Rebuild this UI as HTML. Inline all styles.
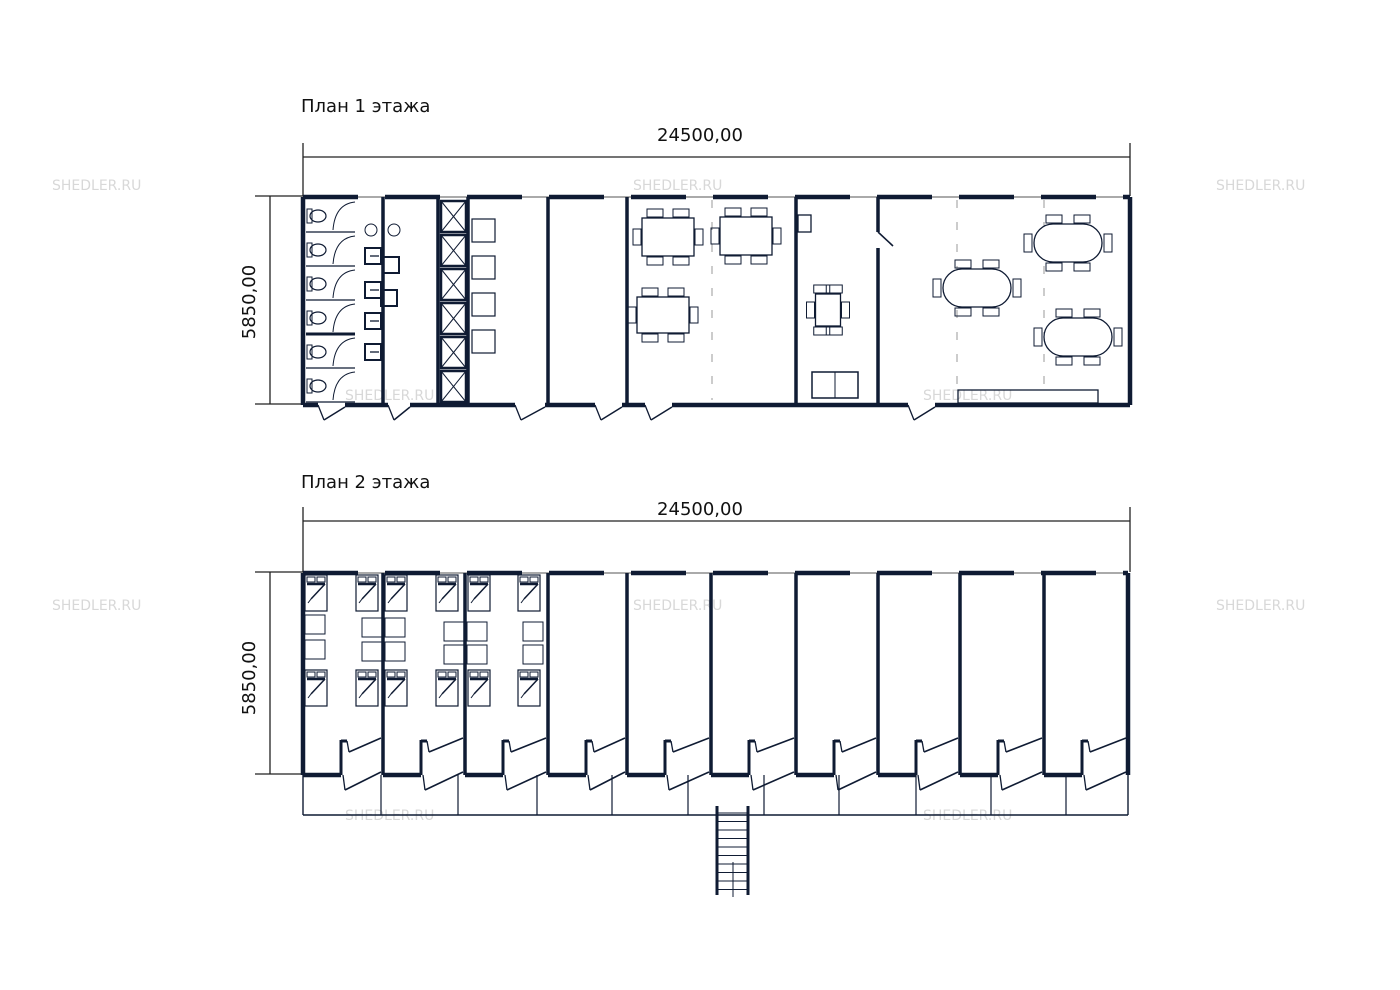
<!DOCTYPE html>
<html><head><meta charset="utf-8"><style>
html,body{margin:0;padding:0;background:#fff;width:1400px;height:990px;overflow:hidden}
svg{display:block}
text{font-family:"DejaVu Sans","Liberation Sans",sans-serif}
</style></head><body>
<svg id="s" width="1400" height="990" viewBox="0 0 1400 990" xmlns="http://www.w3.org/2000/svg">
<g font-size="14" fill="#d8d8d8">
<text x="52" y="190">SHEDLER.RU</text><text x="633" y="190">SHEDLER.RU</text><text x="1216" y="190">SHEDLER.RU</text>
<text x="345" y="400">SHEDLER.RU</text><text x="923" y="400">SHEDLER.RU</text>
<text x="52" y="610">SHEDLER.RU</text><text x="633" y="610">SHEDLER.RU</text><text x="1216" y="610">SHEDLER.RU</text>
<text x="345" y="820">SHEDLER.RU</text><text x="923" y="820">SHEDLER.RU</text>
</g>
<g fill="#111" font-size="18">
<text x="301" y="112">План 1 этажа</text>
<text x="301" y="488">План 2 этажа</text>
<text x="700" y="141" text-anchor="middle">24500,00</text>
<text x="700" y="515" text-anchor="middle">24500,00</text>
<text transform="translate(255,302) rotate(-90)" text-anchor="middle">5850,00</text>
<text transform="translate(255,678) rotate(-90)" text-anchor="middle">5850,00</text>
</g>
<g id="g" stroke="#0f1b33" fill="none"></g>
</svg>
<script>
var g=document.getElementById('g'),h='';
function L(x1,y1,x2,y2,w,c){h+='<line x1="'+x1+'" y1="'+y1+'" x2="'+x2+'" y2="'+y2+'" stroke-width="'+(w||1.3)+'"'+(c?' stroke="'+c+'"':'')+'/>';}
function R(x,y,w,hh,sw,f){h+='<rect x="'+x+'" y="'+y+'" width="'+w+'" height="'+hh+'" stroke-width="'+(sw||1.2)+'"'+(f?' fill="'+f+'"':'')+'/>';}
function E(cx,cy,rx,ry){h+='<ellipse cx="'+cx+'" cy="'+cy+'" rx="'+rx+'" ry="'+ry+'" stroke-width="1.2" fill="#fff"/>';}
function dims(yTop,yB,yDim){L(303,yDim,1130,yDim,1.3,'#222');L(303,yDim-14,303,yTop,1.3,'#222');L(1130,yDim-14,1130,yTop,1.3,'#222');
L(270,yTop,270,yB,1.3,'#222');L(255,yTop,303,yTop,1.3,'#222');L(255,yB,303,yB,1.3,'#222');}
dims(196,404,157);dims(572,774,521);
function topWall(y,x1,x2){L(x1,y,x2,y,1,'#555');for(var x=x1;x<x2;x+=82){L(x,y,Math.min(x+55,x2),y,4.5);}}
topWall(197,303,1130);topWall(573,303,1128);
L(303,197,303,405,4.5);L(1130,197,1130,405,4.5);
var d1=[[318,345],[388,410],[515,545],[595,622],[645,672],[908,935]];
var prev=303;d1.forEach(function(d){L(prev,405,d[0],405,4.5);prev=d[1];
 L(d[0],405,d[0]+6,420,1.3);L(d[0]+6,420,d[1],407,1.5);});L(prev,405,1130,405,4.5);
[383,438,468,548,627,796].forEach(function(x){L(x,197,x,405,3.5);});
L(878,197,878,232,3.5);L(878,248,878,405,3.5);L(878,232,893,246,1.6);
for(var i=0;i<6;i++){var y=200+i*34;L(306,y+32,355,y+32,i==3?3:1.3);E(318,y+16,8,6);R(307,y+9,5,14,1);
 h+='<path d="M355 '+(y+2)+' Q335 '+(y+4)+' 333 '+(y+30)+'" stroke-width="1"/>';}
[[373,256],[373,290],[373,321],[373,352]].forEach(function(p){R(p[0]-8,p[1]-8,16,16,2);L(p[0]-3,p[1],p[0]+6,p[1],1.3);});
[[391,265],[389,298]].forEach(function(p){R(p[0]-8,p[1]-8,16,16,2);});
h+='<circle cx="371" cy="230" r="6" stroke-width="1"/><circle cx="394" cy="230" r="6" stroke-width="1"/>';
for(i=0;i<6;i++){var y=200+i*34;R(441,y+1,25,31,2.5);L(441,y+1,466,y+32,1);L(466,y+1,441,y+32,1);}
for(i=0;i<4;i++)R(472,219+i*37,23,23,1.2);
function dash(x,y1,y2){h+='<line x1="'+x+'" y1="'+y1+'" x2="'+x+'" y2="'+y2+'" stroke-width="1" stroke="#999" stroke-dasharray="8 14"/>';}
dash(712,200,400);dash(957,200,390);dash(1044,200,390);
function chairs(cx,cy,w,hh){R(cx-w/2,cy-hh/2,w,hh,1.3,'#fff');
 [cx-w/4,cx+w/4].forEach(function(x){R(x-8,cy-hh/2-9,16,8,1);R(x-8,cy+hh/2+1,16,8,1);});
 R(cx-w/2-9,cy-8,8,16,1);R(cx+w/2+1,cy-8,8,16,1);}
chairs(668,237,52,38);chairs(746,236,52,38);chairs(663,315,52,36);
chairs(828,310,25,32);
function oval(cx,cy){h+='<rect x="'+(cx-34)+'" y="'+(cy-19)+'" width="68" height="38" rx="19" stroke-width="1.3" fill="#fff"/>';
 [cx-14,cx+14].forEach(function(x){R(x-8,cy-28,16,8,1);R(x-8,cy+20,16,8,1);});R(cx-44,cy-9,8,18,1);R(cx+36,cy-9,8,18,1);}
oval(977,288);oval(1068,243);oval(1078,337);
R(798,215,13,17,1.3);R(812,372,46,26,1.5);L(835,372,835,398,1);
R(958,390,140,13,1.3);
L(303,573,303,775,4.5);L(1128,573,1128,775,4.5);
var walls=[303,383,465,548,627,711,796,878,960,1044,1128];
walls.slice(1,-1).forEach(function(x){L(x,573,x,775,3.5);});
for(i=0;i<walls.length-1;i++){var xl=walls[i],xr=walls[i+1],cx=xl+38;
 L(xl,775,cx,775,4.5);
 L(cx,740,cx,775,3);L(cx,741,cx+6,741,3);
 L(cx+6,741,cx+8,752,1.3);L(cx+8,752,xr-2,738,1.6);
 L(cx+2,775,cx+4,790,1.3);L(cx+4,790,xr-2,772,1.6);}
L(303,775,303,815,1.4);L(1128,775,1128,815,1.4);L(303,815,1128,815,1.4);
[381,458,537,612,688,764,839,916,991,1066].forEach(function(x){L(x,775,x,815,1.2);});
function bed(x,y){R(x,y,22,36,1.2);R(x+2,y+2,8,5,1);R(x+12,y+2,8,5,1);L(x+2,y+9,x+20,y+9,2.5);L(x+20,y+9,x+6,y+24,1.5);L(x+6,y+24,x+3,y+28,1);}
[305,356,385,436,468,518].forEach(function(x){bed(x,575);bed(x,670);});
[[305,615],[305,640],[362,618],[362,642],[385,618],[385,642],[444,622],[444,645],[467,622],[467,645],[523,622],[523,645]].forEach(function(p){R(p[0],p[1],20,19,1);});
L(717,806,717,895,3);L(748,806,748,895,3);
for(var y=813;y<892;y+=8.5)L(717,y,748,y,1);
L(733,862,733,897,1);
g.innerHTML=h;
</script>
</body></html>
